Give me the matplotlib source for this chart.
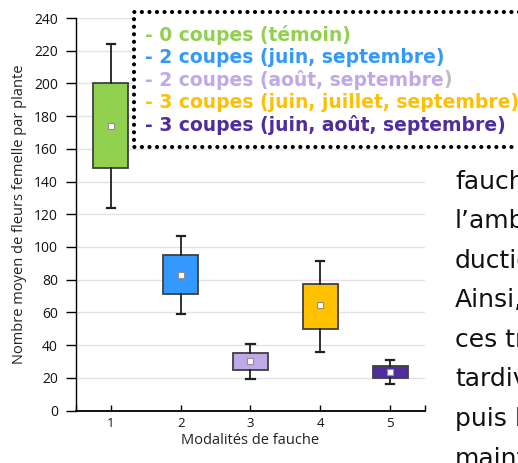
import matplotlib
matplotlib.use("Agg")
import matplotlib.pyplot as plt
from matplotlib.lines import Line2D
from matplotlib.patches import Rectangle

# data
modalites = [1, 2, 3, 4, 5]
whisker_low = [124, 59, 19, 36, 16]
q1 = [148, 71, 24.5, 50, 19.6]
q3 = [200, 95, 35, 77.6, 27]
whisker_high = [224, 107, 40.4, 91.7, 30.6]
means = [174, 83, 30.2, 64.5, 23.7]
box_colors = ["#92D050", "#3399FF", "#BFA9E8", "#FFC000", "#4F2D9E"]

legend_labels = [
    "- 0 coupes (témoin)",
    "- 2 coupes (juin, septembre)",
    "- 2 coupes (août, septembre",
    "- 3 coupes (juin, juillet, septembre)",
    "- 3 coupes (juin, août, septembre)",
]
side_text = ["fauche", "l\u2019ambi", "ductio", "Ainsi,", "ces tr", "tardiv", "puis l", "maint"]

W, H = 518, 463
fig = plt.figure(figsize=(W / 100, H / 100), dpi=100)
ax = fig.add_axes([76 / W, 1 - 410.5 / H, (425 - 76) / W, (410.5 - 18) / H])

stats = []
for i in range(len(modalites)):
    stats.append({
        "whislo": whisker_low[i], "q1": q1[i], "med": means[i],
        "q3": q3[i], "whishi": whisker_high[i], "mean": means[i], "fliers": [],
    })

bp = ax.bxp(stats, positions=modalites, widths=0.5, patch_artist=True,
            showmeans=True, showfliers=False,
            boxprops=dict(edgecolor="#404040", linewidth=1.3),
            whiskerprops=dict(color="#202020", linewidth=1.3),
            capprops=dict(color="#202020", linewidth=1.6),
            medianprops=dict(linewidth=0),
            meanprops=dict(marker="s", markersize=4.5, markerfacecolor="white",
                           markeredgecolor="#909090", markeredgewidth=0.8))
for patch, c in zip(bp["boxes"], box_colors):
    patch.set_facecolor(c)
for cap in bp["caps"]:
    x = cap.get_xdata()
    mid = (x[0] + x[1]) / 2
    cap.set_xdata([mid - 0.06, mid + 0.06])

ax.set_xlim(0.5, 5.5)
ax.set_ylim(0, 240)
ax.set_yticks(range(0, 241, 20))
ax.set_xticks(modalites)
ax.set_xticks([0.5, 5.5], minor=True)
ax.yaxis.grid(True, color="#E3E3E3", linewidth=1)
ax.set_axisbelow(True)
for s in ["top", "right"]:
    ax.spines[s].set_visible(False)
ax.spines["left"].set_linewidth(1.0)
ax.spines["bottom"].set_linewidth(1.3)
ax.tick_params(axis="y", direction="out", length=7, width=1, pad=6,
               labelsize=10, labelcolor="#111111")
ax.tick_params(axis="x", which="both", direction="in", length=4, width=1, pad=5,
               labelsize=9.5, labelcolor="#111111")
for lab in ax.get_yticklabels() + ax.get_xticklabels():
    lab.set_family("Open Sans")
ax.set_ylabel("Nombre moyen de fleurs femelle par plante", family="Open Sans",
              fontsize=10.5, color="#222222", labelpad=5)
ax.set_xlabel("Modalités de fauche", family="Open Sans", fontsize=10.5,
              color="#222222", labelpad=2)

# legend box with dotted border
x0, x1 = 134, 540
y0, y1 = 12, 147
fig.add_artist(Rectangle((x0 / W, 1 - y1 / H), (x1 - x0) / W, (y1 - y0) / H,
                         transform=fig.transFigure, facecolor="white",
                         edgecolor="none", zorder=5))
fig.add_artist(Line2D([x1 / W, x0 / W, x0 / W, x1 / W],
                      [1 - y0 / H, 1 - y0 / H, 1 - y1 / H, 1 - y1 / H],
                      transform=fig.transFigure, color="black", linewidth=3,
                      linestyle=(0, (0.01, 1.8)), dash_capstyle="round", zorder=6))
for i, (lab, c) in enumerate(zip(legend_labels, box_colors)):
    y = 35 + i * 22.5
    t = fig.text(145 / W, 1 - y / H, lab, color=c, fontsize=13.5,
                 fontweight="bold", family="DejaVu Sans", va="center", zorder=7)
    if i == 2:
        fig.canvas.draw()
        bb = t.get_window_extent()
        fig.text(bb.x1 / W, 1 - y / H, ")", color="#BFBFBF", fontsize=13.5,
                 fontweight="bold", family="DejaVu Sans", va="center", zorder=7)

# body text of the page, clipped on the right
for i, line in enumerate(side_text):
    y = 182 + i * 39.5
    fig.text(455 / W, 1 - y / H, line, color="#111111", fontsize=18,
             family="DejaVu Sans", va="center")

fig.savefig("out.png", dpi=100)
